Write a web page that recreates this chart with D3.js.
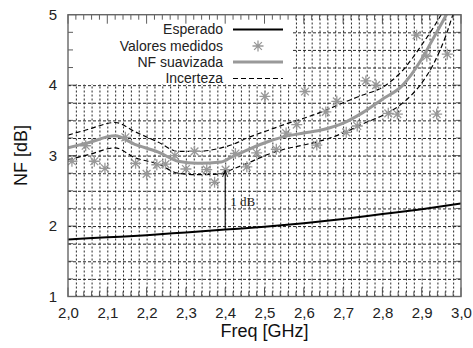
<!DOCTYPE html>
<html>
<head>
<meta charset="utf-8">
<script src="https://cdn.jsdelivr.net/npm/d3@7"></script>
<style>
  body { margin: 0; background: #fff; }
  text { font-family: "Liberation Sans", Arial, sans-serif; }
</style>
</head>
<body>
<script>
// expected NF (theory)
var espFreq = [2.0, 2.1, 2.2, 2.3, 2.4, 2.5, 2.6, 2.7, 2.8, 2.9, 3.0];
var espNF   = [1.81, 1.84, 1.87, 1.91, 1.95, 1.99, 2.04, 2.10, 2.17, 2.24, 2.32];

// measured points
var medFreq = [2.010, 2.045, 2.067, 2.094, 2.146, 2.172, 2.200, 2.226, 2.248, 2.272, 2.300, 2.322,
               2.353, 2.373, 2.401, 2.426, 2.455, 2.480, 2.501, 2.530, 2.555, 2.582, 2.603, 2.633,
               2.656, 2.684, 2.708, 2.736, 2.758, 2.784, 2.815, 2.838, 2.887, 2.913, 2.938, 2.965];
var medNF   = [2.92, 3.14, 2.92, 2.82, 3.26, 2.89, 2.74, 2.87, 2.88, 3.00, 2.81, 3.06,
               2.80, 2.62, 2.80, 3.03, 2.84, 3.04, 3.84, 3.09, 3.32, 3.44, 3.91, 3.15,
               3.62, 3.77, 3.33, 3.42, 4.06, 4.00, 3.60, 3.59, 4.71, 4.41, 3.59, 4.44];

// smoothed NF and uncertainty band
var suaFreq = [2.00, 2.05, 2.12, 2.17, 2.23, 2.28, 2.33, 2.39, 2.42, 2.46, 2.51, 2.55,
               2.60, 2.65, 2.70, 2.75, 2.80, 2.85, 2.90, 2.93, 2.96, 2.99];
var suaNF   = [3.11, 3.18, 3.28, 3.16, 3.05, 2.92, 2.89, 2.91, 2.99, 3.09, 3.20, 3.27,
               3.32, 3.37, 3.46, 3.61, 3.80, 3.99, 4.37, 4.67, 4.97, 5.30];
var incSup  = [3.29, 3.37, 3.47, 3.34, 3.19, 3.06, 3.06, 3.11, 3.16, 3.26, 3.36, 3.44,
               3.53, 3.63, 3.75, 3.86, 3.97, 4.20, 4.57, 4.82, 5.10, 5.40];
var incInf  = [2.94, 3.01, 3.11, 2.97, 2.88, 2.75, 2.73, 2.74, 2.81, 2.90, 3.02, 3.09,
               3.15, 3.22, 3.32, 3.45, 3.57, 3.74, 4.03, 4.30, 4.68, 5.20];

var xTicks = [2.0, 2.1, 2.2, 2.3, 2.4, 2.5, 2.6, 2.7, 2.8, 2.9, 3.0];
var yTicks = [1, 2, 3, 4, 5];
var legendLabels = ["Esperado", "Valores medidos", "NF suavizada", "Incerteza"];

var margin = {top: 14.7, left: 68},
    width = 393,
    height = 281.8;

var svg = d3.select("body").append("svg")
    .attr("width", 473)
    .attr("height", 348);

var g = svg.append("g")
    .attr("transform", "translate(" + margin.left + "," + margin.top + ")");

var x = d3.scaleLinear().domain([2, 3]).range([0, width]);
var y = d3.scaleLinear().domain([1, 5]).range([height, 0]);

var xMinor = d3.range(0, 51).map(function(i) { return 2 + i * 0.02; });
var yMinor = d3.range(0, 17).map(function(i) { return 1 + i * 0.25; });

g.append("clipPath").attr("id", "clip")
  .append("rect").attr("width", width).attr("height", height);

// grid
var gridX = g.append("g")
    .attr("transform", "translate(0," + height + ")")
    .call(d3.axisBottom(x).tickValues(xMinor.slice(1, -1)).tickSize(-height).tickFormat(""));
gridX.select(".domain").remove();
gridX.selectAll("line").attr("stroke", "#111").attr("stroke-width", 0.9).attr("stroke-dasharray", "2,2");

var gridY = g.append("g")
    .call(d3.axisLeft(y).tickValues(yMinor.slice(1, -1)).tickSize(-width).tickFormat(""));
gridY.select(".domain").remove();
gridY.selectAll("line").attr("stroke", "#111").attr("stroke-width", 0.9).attr("stroke-dasharray", "3,2");

// legend background covers grid
g.append("rect")
  .attr("x", 0).attr("y", 0)
  .attr("width", 224).attr("height", y(4) - 1)
  .attr("fill", "#fff");

// border tics (inside, all sides)
var tics = g.append("g").attr("stroke", "#333").attr("stroke-width", 0.8);
xMinor.forEach(function(v, i) {
    var len = (i % 5 == 0) ? 9 : 5;
    tics.append("line").attr("x1", x(v)).attr("x2", x(v)).attr("y1", 0).attr("y2", len);
    tics.append("line").attr("x1", x(v)).attr("x2", x(v)).attr("y1", height).attr("y2", height - len);
});
yMinor.forEach(function(v, i) {
    var len = (i % 4 == 0) ? 9 : 5;
    tics.append("line").attr("x1", 0).attr("x2", len).attr("y1", y(v)).attr("y2", y(v));
    tics.append("line").attr("x1", width).attr("x2", width - len).attr("y1", y(v)).attr("y2", y(v));
});

var plot = g.append("g").attr("clip-path", "url(#clip)");

var zip = function(a, b) { return a.map(function(v, i) { return [v, b[i]]; }); };

var smoothLine = d3.line().curve(d3.curveMonotoneX)
    .x(function(d) { return x(d[0]); })
    .y(function(d) { return y(d[1]); });

// esperado
plot.append("path")
    .datum(zip(espFreq, espNF))
    .attr("fill", "none").attr("stroke", "#000").attr("stroke-width", 2)
    .attr("d", smoothLine);

// smoothed line
plot.append("path")
    .datum(zip(suaFreq, suaNF))
    .attr("fill", "none").attr("stroke", "#999").attr("stroke-width", 3)
    .attr("d", smoothLine);

// uncertainty
[incSup, incInf].forEach(function(arr) {
    plot.append("path")
        .datum(zip(suaFreq, arr))
        .attr("fill", "none").attr("stroke", "#000").attr("stroke-width", 1.2)
        .attr("stroke-dasharray", "5,3")
        .attr("d", smoothLine);
});

// asterisk marker
function star(sz) {
    var p = d3.path();
    var d = sz * 0.707;
    p.moveTo(-sz, 0); p.lineTo(sz, 0);
    p.moveTo(0, -sz); p.lineTo(0, sz);
    p.moveTo(-d, -d); p.lineTo(d, d);
    p.moveTo(-d, d); p.lineTo(d, -d);
    return p.toString();
}

plot.selectAll(".med")
    .data(zip(medFreq, medNF))
    .enter().append("path")
    .attr("class", "med")
    .attr("transform", function(d) { return "translate(" + x(d[0]) + "," + y(d[1]) + ")"; })
    .attr("d", star(5.5))
    .attr("fill", "none").attr("stroke", "#999").attr("stroke-width", 1.3);

// 1 dB annotation
svg.append("defs").append("marker")
    .attr("id", "arr").attr("viewBox", "0 0 10 10")
    .attr("refX", 10).attr("refY", 5)
    .attr("markerWidth", 7).attr("markerHeight", 7)
    .attr("orient", "auto")
  .append("path").attr("d", "M0,1 L10,5 L0,9").attr("fill", "none").attr("stroke", "#000").attr("stroke-width", 1.2);

g.append("line")
    .attr("x1", x(2.4)).attr("x2", x(2.4))
    .attr("y1", y(1.955)).attr("y2", y(2.79))
    .attr("stroke", "#000").attr("stroke-width", 1)
    .attr("marker-end", "url(#arr)");

g.append("text")
    .attr("x", x(2.4) + 5).attr("y", y(2.35) + 5)
    .style("font-family", "'Liberation Serif', 'DejaVu Serif', serif")
    .style("font-size", "13px")
    .attr("fill", "#222")
    .text("1 dB");

// border
g.append("rect")
    .attr("width", width).attr("height", height)
    .attr("fill", "none").attr("stroke", "#666").attr("stroke-width", 1.4);

// tick labels
var fmt = function(d) { return d3.format(".1f")(d).replace(".", ","); };
var ax = g.append("g")
    .attr("transform", "translate(0," + height + ")")
    .call(d3.axisBottom(x).tickValues(xTicks).tickSize(0).tickPadding(11).tickFormat(fmt));
ax.select(".domain").remove();
ax.selectAll("text").style("font-size", "15px").style("font-family", "'Liberation Sans', Arial, sans-serif").attr("fill", "#222");

var ay = g.append("g")
    .call(d3.axisLeft(y).tickValues(yTicks).tickSize(0).tickPadding(11).tickFormat(d3.format("d")));
ay.select(".domain").remove();
ay.selectAll("text").style("font-size", "15px").style("font-family", "'Liberation Sans', Arial, sans-serif").attr("fill", "#222");

// axis titles
svg.append("text")
    .attr("x", margin.left + width / 2).attr("y", 337)
    .attr("text-anchor", "middle")
    .style("font-size", "18px").attr("fill", "#111")
    .text("Freq [GHz]");

svg.append("text")
    .attr("transform", "translate(27," + (margin.top + height / 2) + ") rotate(-90)")
    .attr("text-anchor", "middle")
    .style("font-size", "18px").attr("fill", "#111")
    .text("NF [dB]");

// legend
var rowY = [14.8, 31.3, 47.3, 63.8];
var leg = g.append("g");
legendLabels.forEach(function(lbl, i) {
    leg.append("text")
        .attr("x", 155).attr("y", rowY[i] + 5)
        .attr("text-anchor", "end")
        .style("font-size", "14px").attr("fill", "#222")
        .text(lbl);
});
leg.append("line").attr("x1", 165).attr("x2", 215).attr("y1", rowY[0]).attr("y2", rowY[0])
    .attr("stroke", "#000").attr("stroke-width", 2);
leg.append("path").attr("transform", "translate(190," + rowY[1] + ")")
    .attr("d", star(5.5)).attr("fill", "none").attr("stroke", "#999").attr("stroke-width", 1.3);
leg.append("line").attr("x1", 165).attr("x2", 215).attr("y1", rowY[2]).attr("y2", rowY[2])
    .attr("stroke", "#999").attr("stroke-width", 3);
leg.append("line").attr("x1", 165).attr("x2", 215).attr("y1", rowY[3]).attr("y2", rowY[3])
    .attr("stroke", "#000").attr("stroke-width", 1.2).attr("stroke-dasharray", "5,3");
</script>
</body>
</html>
